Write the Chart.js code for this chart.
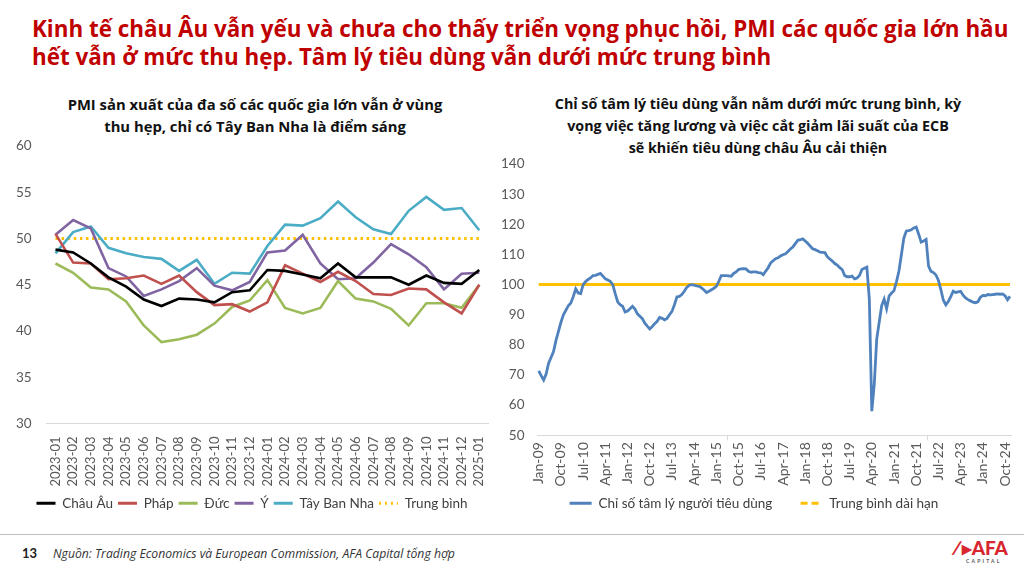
<!DOCTYPE html>
<html lang="vi">
<head>
<meta charset="utf-8">
<script src="https://cdn.jsdelivr.net/npm/chart.js@4.4.1/dist/chart.umd.min.js"></script>
<style>
  html, body { margin: 0; padding: 0; background: #fff; }
  body { width: 1024px; height: 570px; position: relative; overflow: hidden; font-family: Lato, "Noto Sans", sans-serif; }
  .title { position: absolute; left: 32px; top: 15px; color: #c00000; font-family: "Open Sans", sans-serif; font-weight: 700; font-size: 22.4px; line-height: 28px; white-space: nowrap; }
  .sub { position: absolute; color: #111; font-family: "Open Sans", sans-serif; font-weight: 700; font-size: 14.3px; line-height: 22px; text-align: center; white-space: nowrap; }
  .box { position: absolute; }
  .footline { position: absolute; left: 0; top: 534px; width: 1024px; height: 1px; background: #bfbfbf; }
  .page { position: absolute; left: 22px; top: 545px; font-weight: 700; font-size: 13px; color: #222; }
  .src { position: absolute; left: 53px; top: 545px; font-family: "Open Sans", sans-serif; font-style: italic; font-size: 12.2px; color: #333; }
  .logo { position: absolute; left: 952px; top: 538px; color: #d7262e; font-weight: 900; font-size: 19px; line-height: 20px; }
  .logo small { display: block; font-size: 5px; letter-spacing: 2.2px; line-height: 7px; margin-left: 14px; font-weight: 700; color: #555; }
</style>
</head>
<body>
<div class="title">Kinh tế châu Âu vẫn yếu và chưa cho thấy triển vọng phục hồi, PMI các quốc gia lớn hầu<br>hết vẫn ở mức thu hẹp. Tâm lý tiêu dùng vẫn dưới mức trung bình</div>

<div class="sub" style="left:40px; top:93px; width:430px; font-size:14.8px;">PMI sản xuất của đa số các quốc gia lớn vẫn ở vùng<br>thu hẹp, chỉ có Tây Ban Nha là điểm sáng</div>
<div class="sub" style="left:528px; top:93px; width:460px;">Chỉ số tâm lý tiêu dùng vẫn nằm dưới mức trung bình, kỳ<br>vọng việc tăng lương và việc cắt giảm lãi suất của ECB<br>sẽ khiến tiêu dùng châu Âu cải thiện</div>

<div class="box" style="left:0px; top:131px; width:500px; height:389px;"><canvas id="pmiChart"></canvas></div>
<div class="box" style="left:493px; top:151px; width:531px; height:369px;"><canvas id="sentChart"></canvas></div>

<div class="footline"></div>
<div class="page">13</div>
<div class="src">Nguồn: Trading Economics và European Commission, AFA Capital tổng hợp</div>
<div class="logo">&#x2215;&#x25B8;AFA<small>CAPITAL</small></div>

<script>
// ---- left chart: PMI manufacturing ----
const pmiMonths = ['2023-01', '2023-02', '2023-03', '2023-04', '2023-05', '2023-06', '2023-07', '2023-08',
  '2023-09', '2023-10', '2023-11', '2023-12', '2024-01', '2024-02', '2024-03', '2024-04', '2024-05',
  '2024-06', '2024-07', '2024-08', '2024-09', '2024-10', '2024-11', '2024-12', '2025-01'];

const chauAu   = [48.8, 48.5, 47.3, 45.8, 44.8, 43.4, 42.7, 43.5, 43.4, 43.1, 44.2, 44.4, 46.6, 46.5, 46.1, 45.7, 47.3, 45.8, 45.8, 45.8, 45.0, 46.0, 45.2, 45.1, 46.6];
const phap     = [50.5, 47.4, 47.3, 45.6, 45.7, 46.0, 45.1, 46.0, 44.2, 42.8, 42.9, 42.1, 43.1, 47.1, 46.2, 45.3, 46.4, 45.4, 44.0, 43.9, 44.6, 44.5, 43.1, 41.9, 45.0];
const duc      = [47.3, 46.3, 44.7, 44.5, 43.2, 40.6, 38.8, 39.1, 39.6, 40.8, 42.6, 43.3, 45.5, 42.5, 41.9, 42.5, 45.4, 43.5, 43.2, 42.4, 40.6, 43.0, 43.0, 42.5, 45.0];
const y        = [50.4, 52.0, 51.1, 46.8, 45.9, 43.8, 44.5, 45.4, 46.8, 44.9, 44.4, 45.3, 48.5, 48.7, 50.4, 47.3, 45.6, 45.7, 47.4, 49.4, 48.3, 46.9, 44.5, 46.2, 46.3];
const tayBanNha = [48.4, 50.7, 51.3, 49.0, 48.4, 48.0, 47.8, 46.5, 47.7, 45.1, 46.3, 46.2, 49.2, 51.5, 51.4, 52.2, 54.0, 52.3, 51.0, 50.5, 53.0, 54.5, 53.1, 53.3, 50.9];
const pmiNeutral = 50;            // expansion / contraction line
const pmiTicks = [30, 35, 40, 45, 50, 55, 60];

// ---- right chart: sentiment index, Jan-09 .. Dec-24 ----
const monthNames = ['Jan', 'Feb', 'Mar', 'Apr', 'May', 'Jun', 'Jul', 'Aug', 'Sep', 'Oct', 'Nov', 'Dec'];
const sentYears = [2009, 2010, 2011, 2012, 2013, 2014, 2015, 2016, 2017, 2018, 2019, 2020, 2021, 2022, 2023, 2024];
const sentiment = [
  71.4, 69.8, 68.3, 70.3, 73.9, 75.8, 77.8, 81.5, 84.5, 87.5, 90.0, 91.5,      // 2009
  93.0, 93.9, 96.0, 98.6, 97.2, 97.0, 100.0, 101.0, 101.7, 102.2, 103.0, 103.1, // 2010
  103.4, 103.7, 102.8, 101.9, 101.5, 101.1, 100.0, 97.0, 94.3, 93.3, 92.8, 90.9, // 2011
  91.2, 92.0, 92.8, 91.9, 90.3, 89.5, 88.7, 87.2, 86.2, 85.3, 86.1, 87.0,      // 2012
  87.8, 89.1, 88.8, 88.3, 88.8, 90.0, 91.1, 93.3, 95.9, 96.1, 96.7, 97.8,      // 2013
  99.1, 99.8, 100.0, 99.8, 99.6, 99.4, 98.9, 98.2, 97.4, 97.8, 98.3, 98.8,     // 2014
  99.4, 101.1, 103.0, 103.0, 103.0, 102.9, 102.8, 103.7, 104.2, 105.0, 105.2, 105.3, // 2015
  105.2, 104.4, 104.1, 104.2, 104.2, 104.0, 103.9, 103.3, 104.5, 105.6, 107.2, 107.9, // 2016
  108.6, 108.9, 109.5, 109.9, 110.2, 111.0, 111.8, 112.5, 113.6, 114.7, 114.9, 115.2, // 2017
  114.5, 113.7, 112.8, 111.9, 111.6, 111.2, 110.8, 110.7, 110.6, 109.2, 108.5, 107.8, // 2018
  107.0, 106.5, 105.6, 105.0, 103.0, 102.6, 102.6, 102.8, 101.9, 102.2, 103.0, 105.0, // 2019
  105.4, 105.8, 95.0, 58.0, 67.0, 82.0, 87.5, 93.0, 95.2, 92.0, 96.2, 97.2,     // 2020
  98.0, 101.0, 104.5, 110.0, 115.5, 117.8, 117.9, 118.2, 118.8, 119.1, 116.7, 114.1, // 2021
  114.5, 115.0, 106.1, 104.4, 104.0, 103.2, 101.4, 98.3, 94.8, 93.3, 94.4, 96.0, // 2022
  97.8, 97.4, 97.6, 97.8, 96.5, 95.6, 95.0, 94.6, 94.2, 94.0, 94.3, 95.8,      // 2023
  96.4, 96.3, 96.7, 96.6, 96.7, 96.8, 96.9, 96.8, 96.9, 96.3, 95.0, 96.1       // 2024
];
const longTermAvg = 100;
const sentTickEvery = 9;          // label shown every 9 months

const sentLabels = [];
sentYears.forEach(yr => monthNames.forEach(m => sentLabels.push(m + '-' + String(yr).slice(2))));

const tickColor = '#595959';
const axisColor = '#d9d9d9';

// legend markers drawn as short lines (dotted / dashed where needed)
function lineLegend(dashes, gap) {
  return function (chart) {
    return chart.data.datasets.map((ds, i) => ({
      text: ds.label + (gap && i < chart.data.datasets.length - 1 ? gap : ''),
      fillStyle: ds.borderColor,
      strokeStyle: ds.borderColor,
      lineWidth: 3,
      lineDash: dashes[i] || [],
      pointStyle: 'line',
      fontColor: '#404040',
      hidden: false,
      datasetIndex: i
    }));
  };
}

new Chart(document.getElementById('pmiChart'), {
  type: 'line',
  data: {
    labels: pmiMonths,
    datasets: [
      { label: 'Châu Âu', data: chauAu, borderColor: '#000000' },
      { label: 'Pháp', data: phap, borderColor: '#c0504d' },
      { label: 'Đức', data: duc, borderColor: '#9bbb59' },
      { label: 'Ý', data: y, borderColor: '#8064a2' },
      { label: 'Tây Ban Nha', data: tayBanNha, borderColor: '#4bacc6' },
      { label: 'Trung bình', data: pmiMonths.map(() => pmiNeutral), borderColor: '#ffc000',
        borderDash: [2.5, 3.6], borderWidth: 3 }
    ]
  },
  options: {
    responsive: true,
    maintainAspectRatio: false,
    animation: false,
    layout: { padding: { left: 9, right: 5, top: 4, bottom: 0 } },
    elements: {
      line: { borderWidth: 2.6, tension: 0, fill: false },
      point: { radius: 0 }
    },
    plugins: {
      tooltip: { enabled: false },
      legend: {
        position: 'bottom',
        labels: {
          usePointStyle: true,
          pointStyleWidth: 19,
          boxHeight: 3,
          padding: 5,
          color: '#404040',
          font: { family: 'Lato', size: 13.5 },
          generateLabels: lineLegend({ 5: [2, 4] })
        }
      }
    },
    scales: {
      x: {
        offset: true,
        grid: { display: false },
        border: { color: axisColor },
        ticks: {
          autoSkip: false, minRotation: 90, maxRotation: 90, padding: 5,
          color: tickColor, font: { family: 'Lato', size: 13 }
        }
      },
      y: {
        min: 30, max: 60,
        afterBuildTicks: axis => { axis.ticks = pmiTicks.map(v => ({ value: v })); },
        grid: { display: false },
        border: { display: false },
        ticks: { padding: 7, color: tickColor, font: { family: 'Lato', size: 13.5 } }
      }
    }
  }
});

new Chart(document.getElementById('sentChart'), {
  type: 'line',
  data: {
    labels: sentLabels,
    datasets: [
      { label: 'Chỉ số tâm lý người tiêu dùng', data: sentiment, borderColor: '#4f81bd', borderWidth: 2.8 },
      { label: 'Trung bình dài hạn', data: sentLabels.map(() => longTermAvg), borderColor: '#ffc000', borderWidth: 3 }
    ]
  },
  options: {
    responsive: true,
    maintainAspectRatio: false,
    animation: false,
    layout: { padding: { left: 3, right: 12, top: 4, bottom: 0 } },
    elements: {
      line: { tension: 0, fill: false },
      point: { radius: 0 }
    },
    plugins: {
      tooltip: { enabled: false },
      legend: {
        position: 'bottom',
        labels: {
          usePointStyle: true,
          pointStyleWidth: 22,
          boxHeight: 3,
          padding: 8,
          color: '#404040',
          font: { family: 'Lato', size: 13.5 },
          generateLabels: lineLegend({ 1: [7, 4] }, '\u2002\u2002\u2002')
        }
      }
    },
    scales: {
      x: {
        offset: true,
        grid: {
          offset: true,
          drawOnChartArea: false,
          drawTicks: true,
          tickLength: 5,
          color: ctx => (ctx.index % sentTickEvery === 0 ? axisColor : 'rgba(0,0,0,0)')
        },
        border: { color: axisColor },
        ticks: {
          autoSkip: false, minRotation: 90, maxRotation: 90, padding: 2,
          color: tickColor, font: { family: 'Lato', size: 14 },
          callback: function (val, idx) { return idx % sentTickEvery === 0 ? this.getLabelForValue(val) : null; }
        }
      },
      y: {
        min: 50, max: 140,
        ticks: { stepSize: 10, padding: 5, color: tickColor, font: { family: 'Lato', size: 13.5 } },
        grid: { display: false },
        border: { display: false }
      }
    }
  }
});
</script>
</body>
</html>
